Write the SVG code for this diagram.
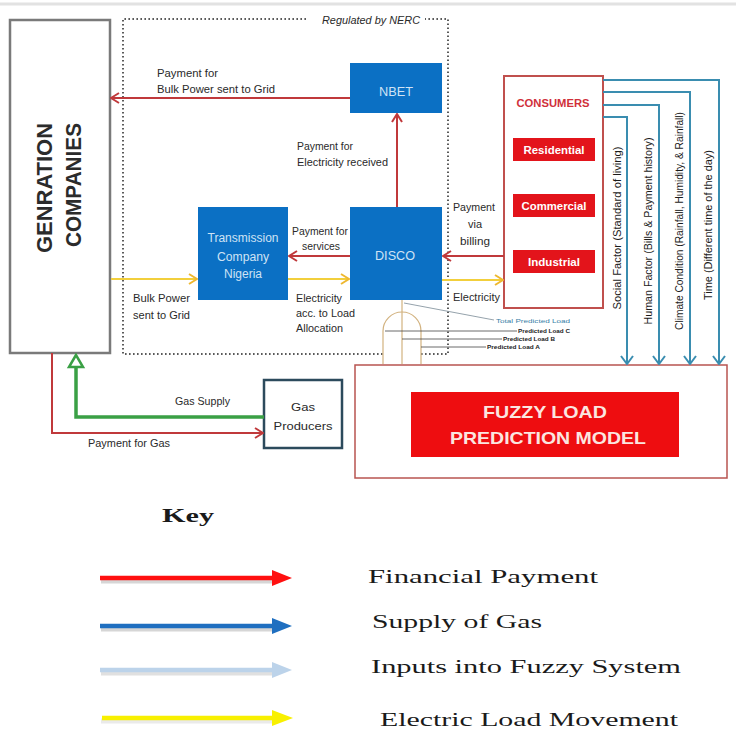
<svg xmlns="http://www.w3.org/2000/svg" width="736" height="729" viewBox="0 0 736 729">
<defs>
<style>
.t{font-family:"Liberation Sans",Arial,sans-serif;fill:#2a2a2a;font-size:11px}
.w{fill:#cfe3f5;font-size:12px}
.c{text-anchor:middle}
.rb{font-family:"Liberation Sans",Arial,sans-serif;font-weight:bold;fill:#ffffff;font-size:11px;text-anchor:middle}
.rot{font-family:"Liberation Sans",Arial,sans-serif;fill:#1a1a1a;font-size:10px;text-anchor:middle}
.tiny{font-family:"Liberation Sans",Arial,sans-serif;font-size:6px;fill:#222}
.key{font-family:"Liberation Serif","Times New Roman",serif;fill:#1a1a1a;font-size:19px}
.red{fill:none;stroke:#c0393b;stroke-width:2}
.yel{fill:none;stroke:#f2cf3c;stroke-width:2.2}
.teal{fill:none;stroke:#3a8db0;stroke-width:2}
.blue{fill:#0b70c4}
</style>
<marker id="mr" viewBox="0 0 10 12" refX="9" refY="6" markerWidth="10" markerHeight="12" orient="auto" markerUnits="userSpaceOnUse"><path d="M1,1 L9,6 L1,11" fill="none" stroke="#c0393b" stroke-width="2"/></marker>
<marker id="my" viewBox="0 0 10 12" refX="9" refY="6" markerWidth="10" markerHeight="12" orient="auto" markerUnits="userSpaceOnUse"><path d="M1,1 L9,6 L1,11" fill="none" stroke="#eeb830" stroke-width="2"/></marker>
<marker id="mt" viewBox="0 0 10 14" refX="9" refY="7" markerWidth="10" markerHeight="14" orient="auto" markerUnits="userSpaceOnUse"><path d="M1,1 L9,7 L1,13" fill="none" stroke="#3a8db0" stroke-width="2"/></marker>
</defs>
<rect width="736" height="729" fill="#ffffff"/>
<line x1="0" y1="4" x2="736" y2="4" stroke="#e2e2e2" stroke-width="3"/>

<g id="regulated">
<path d="M306,19 L123,19 L123,354 L383,354 M421,354 L448,354 L448,19 L425,19" fill="none" stroke="#5a5a5a" stroke-width="2" stroke-dasharray="1.6 2.4"/>
<text x="322" y="24" class="t" font-style="italic" font-size="10" textLength="98" lengthAdjust="spacingAndGlyphs">Regulated by NERC</text>
</g>

<g id="generation">
<rect x="10" y="20" width="100" height="333" fill="#ffffff" stroke="#7a7a7a" stroke-width="2.5"/>
<text transform="translate(52,253) rotate(-90)" font-family="Liberation Sans,Arial,sans-serif" font-weight="bold" font-size="22" fill="#2b2b2b" textLength="130" lengthAdjust="spacingAndGlyphs">GENRATION</text>
<text transform="translate(81,247) rotate(-90)" font-family="Liberation Sans,Arial,sans-serif" font-weight="bold" font-size="22" fill="#2b2b2b" textLength="124" lengthAdjust="spacingAndGlyphs">COMPANIES</text>
</g>

<g id="nbet">
<rect x="350" y="63" width="92" height="50" class="blue"/>
<text x="396" y="96" class="t w c" font-size="15" textLength="34" lengthAdjust="spacingAndGlyphs">NBET</text>
</g>

<g id="tcn">
<rect x="198" y="207" width="90" height="93" class="blue"/>
<text x="243" y="242" class="t w c" textLength="71" lengthAdjust="spacingAndGlyphs">Transmission</text>
<text x="243" y="261" class="t w c" textLength="52" lengthAdjust="spacingAndGlyphs">Company</text>
<text x="243" y="278" class="t w c" textLength="38" lengthAdjust="spacingAndGlyphs">Nigeria</text>
</g>

<g id="disco">
<rect x="350" y="207" width="92" height="93" class="blue"/>
<text x="395" y="260" class="t w c" font-size="14" textLength="40" lengthAdjust="spacingAndGlyphs">DISCO</text>
</g>

<g id="consumers">
<rect x="504" y="76" width="99" height="232" fill="#ffffff" stroke="#c0504d" stroke-width="2"/>
<text x="553" y="107" font-family="Liberation Sans,Arial,sans-serif" font-weight="bold" font-size="10" fill="#d0303a" text-anchor="middle" textLength="73" lengthAdjust="spacingAndGlyphs">CONSUMERS</text>
<rect x="513" y="138" width="82" height="23" fill="#e3141b"/>
<text x="554" y="154" class="rb" textLength="61" lengthAdjust="spacingAndGlyphs">Residential</text>
<rect x="513" y="194" width="82" height="23" fill="#e3141b"/>
<text x="554" y="210" class="rb" textLength="65" lengthAdjust="spacingAndGlyphs">Commercial</text>
<rect x="513" y="250" width="82" height="23" fill="#e3141b"/>
<text x="554" y="266" class="rb" textLength="52" lengthAdjust="spacingAndGlyphs">Industrial</text>
</g>

<g id="gas-producers">
<rect x="264" y="380" width="78" height="68" fill="#ffffff" stroke="#2c4a5c" stroke-width="2.5"/>
<text x="303" y="411" class="t c" font-size="13" textLength="24" lengthAdjust="spacingAndGlyphs">Gas</text>
<text x="303" y="430" class="t c" font-size="13" textLength="59" lengthAdjust="spacingAndGlyphs">Producers</text>
</g>

<g id="fuzzy-model">
<rect x="355" y="365" width="372" height="113" fill="#ffffff" stroke="#b85450" stroke-width="1.5"/>
<rect x="411" y="392" width="268" height="65" fill="#ee0d10"/>
<text x="545" y="418" font-family="Liberation Sans,Arial,sans-serif" font-weight="bold" font-size="17" fill="#fbe6e0" text-anchor="middle" textLength="124" lengthAdjust="spacingAndGlyphs">FUZZY LOAD</text>
<text x="548" y="444" font-family="Liberation Sans,Arial,sans-serif" font-weight="bold" font-size="17" fill="#fbe6e0" text-anchor="middle" textLength="196" lengthAdjust="spacingAndGlyphs">PREDICTION MODEL</text>
</g>

<g id="connectors">
<!-- NBET to Generation payment -->
<line x1="350" y1="98" x2="111" y2="98" class="red" marker-end="url(#mr)"/>
<text x="157" y="77" class="t" textLength="61" lengthAdjust="spacingAndGlyphs">Payment for</text>
<text x="157" y="93" class="t" textLength="118" lengthAdjust="spacingAndGlyphs">Bulk Power sent to Grid</text>
<!-- DISCO to NBET -->
<line x1="397" y1="207" x2="397" y2="114" class="red" marker-end="url(#mr)"/>
<text x="297" y="150" class="t" textLength="56" lengthAdjust="spacingAndGlyphs">Payment for</text>
<text x="297" y="166" class="t" textLength="91" lengthAdjust="spacingAndGlyphs">Electricity received</text>
<!-- DISCO to TCN payment -->
<line x1="350" y1="256" x2="289" y2="256" class="red" marker-end="url(#mr)"/>
<text x="320" y="235" class="t c" textLength="56" lengthAdjust="spacingAndGlyphs">Payment for</text>
<text x="321" y="250" class="t c" textLength="38" lengthAdjust="spacingAndGlyphs">services</text>
<!-- Consumers to DISCO payment -->
<line x1="504" y1="256" x2="443" y2="256" class="red" marker-end="url(#mr)"/>
<text x="474" y="211" class="t c" font-size="12" textLength="42" lengthAdjust="spacingAndGlyphs">Payment</text>
<text x="475" y="228" class="t c" font-size="12">via</text>
<text x="475" y="245" class="t c" font-size="12" textLength="30" lengthAdjust="spacingAndGlyphs">billing</text>
<!-- Gen to TCN electricity -->
<line x1="111" y1="279" x2="197" y2="279" class="yel" marker-end="url(#my)"/>
<text x="133" y="302" class="t" textLength="57" lengthAdjust="spacingAndGlyphs">Bulk Power</text>
<text x="133" y="319" class="t" textLength="57" lengthAdjust="spacingAndGlyphs">sent to Grid</text>
<!-- TCN to DISCO -->
<line x1="288" y1="279" x2="349" y2="279" class="yel" marker-end="url(#my)"/>
<text x="296" y="302" class="t" textLength="46" lengthAdjust="spacingAndGlyphs">Electricity</text>
<text x="296" y="317" class="t" textLength="59" lengthAdjust="spacingAndGlyphs">acc. to Load</text>
<text x="296" y="332" class="t" textLength="47" lengthAdjust="spacingAndGlyphs">Allocation</text>
<!-- DISCO to Consumers -->
<line x1="442" y1="280" x2="503" y2="280" class="yel" marker-end="url(#my)"/>
<text x="453" y="301" class="t" textLength="47" lengthAdjust="spacingAndGlyphs">Electricity</text>
<!-- Gas supply -->
<path d="M264,417 L76,417 L76,366" fill="none" stroke="#3aa045" stroke-width="3.5"/>
<path d="M76,355 L69,367 L83,367 Z" fill="#ffffff" stroke="#3aa045" stroke-width="2.5" stroke-linejoin="miter"/>
<text x="175" y="405" class="t" textLength="55" lengthAdjust="spacingAndGlyphs">Gas Supply</text>
<!-- Payment for gas -->
<path d="M52,353 L52,433 L263,433" class="red" marker-end="url(#mr)"/>
<text x="88" y="447" class="t" textLength="82" lengthAdjust="spacingAndGlyphs">Payment for Gas</text>
<!-- Fuzzy inputs -->
<path d="M603,117 L627,117 L627,364" class="teal" marker-end="url(#mt)"/>
<path d="M603,105 L659,105 L659,364" class="teal" marker-end="url(#mt)"/>
<path d="M603,92 L690,92 L690,364" class="teal" marker-end="url(#mt)"/>
<path d="M603,80 L719,80 L719,364" class="teal" marker-end="url(#mt)"/>
<text transform="translate(621,228) rotate(-90)" class="rot" textLength="163" lengthAdjust="spacingAndGlyphs">Social Factor (Standard of living)</text>
<text transform="translate(652,231) rotate(-90)" class="rot" textLength="187" lengthAdjust="spacingAndGlyphs">Human Factor (Bills &amp; Payment history)</text>
<text transform="translate(683,221) rotate(-90)" class="rot" textLength="218" lengthAdjust="spacingAndGlyphs">Climate Condition (Rainfall, Humidity, &amp; Rainfall)</text>
<text transform="translate(712,225) rotate(-90)" class="rot" textLength="150" lengthAdjust="spacingAndGlyphs">Time (Different time of the day)</text>
<!-- Predicted load outputs -->
<path d="M383,364 L383,331 A19,19 0 0 1 421,331 L421,364" fill="none" stroke="#d2b27f" stroke-width="1.2"/>
<line x1="402" y1="300" x2="402" y2="364" stroke="#d2b27f" stroke-width="1.2"/>
<line x1="404" y1="303" x2="494" y2="320" stroke="#7a8a96" stroke-width="0.8"/>
<line x1="385" y1="331" x2="517" y2="331" stroke="#444" stroke-width="0.8"/>
<line x1="402" y1="339" x2="502" y2="339" stroke="#444" stroke-width="0.8"/>
<line x1="421" y1="347" x2="486" y2="347" stroke="#444" stroke-width="0.8"/>
<text x="496" y="323" class="tiny" fill="#3a7fa8" style="fill:#3a7fa8" textLength="74" lengthAdjust="spacingAndGlyphs">Total Predicted Load</text>
<text x="518" y="333" class="tiny" font-weight="bold" textLength="52" lengthAdjust="spacingAndGlyphs">Predicted Load C</text>
<text x="503" y="341" class="tiny" font-weight="bold" textLength="52" lengthAdjust="spacingAndGlyphs">Predicted Load B</text>
<text x="487" y="349" class="tiny" font-weight="bold" textLength="53" lengthAdjust="spacingAndGlyphs">Predicted Load A</text>
</g>

<g id="key">
<text x="162" y="522" class="key" font-weight="bold" textLength="52" lengthAdjust="spacingAndGlyphs">Key</text>
<line x1="101" y1="581" x2="276" y2="581" stroke="#bbbbbb" stroke-width="5" opacity="0.6"/>
<line x1="100" y1="578" x2="276" y2="578" stroke="#ff1010" stroke-width="4.5"/>
<polygon points="272,570 292,578 272,586" fill="#ff1010"/>
<text x="368" y="583" class="key" textLength="230" lengthAdjust="spacingAndGlyphs">Financial Payment</text>
<line x1="101" y1="629" x2="276" y2="629" stroke="#bbbbbb" stroke-width="5" opacity="0.6"/>
<line x1="100" y1="626" x2="276" y2="626" stroke="#1f6fc0" stroke-width="4.5"/>
<polygon points="272,618 292,626 272,634" fill="#1f6fc0"/>
<text x="372" y="628" class="key" textLength="170" lengthAdjust="spacingAndGlyphs">Supply of Gas</text>
<line x1="101" y1="673" x2="276" y2="673" stroke="#cccccc" stroke-width="5" opacity="0.6"/>
<line x1="100" y1="670" x2="276" y2="670" stroke="#bcd3ea" stroke-width="4.5"/>
<polygon points="272,662 292,670 272,678" fill="#bcd3ea"/>
<text x="371" y="673" class="key" textLength="310" lengthAdjust="spacingAndGlyphs">Inputs into Fuzzy System</text>
<line x1="101" y1="721" x2="276" y2="721" stroke="#dddddd" stroke-width="5" opacity="0.6"/>
<line x1="102" y1="718" x2="276" y2="718" stroke="#f8f000" stroke-width="4.5"/>
<polygon points="272,710 293,718 272,726" fill="#f8f000"/>
<text x="380" y="726" class="key" textLength="298" lengthAdjust="spacingAndGlyphs">Electric Load Movement</text>
</g>
</svg>
